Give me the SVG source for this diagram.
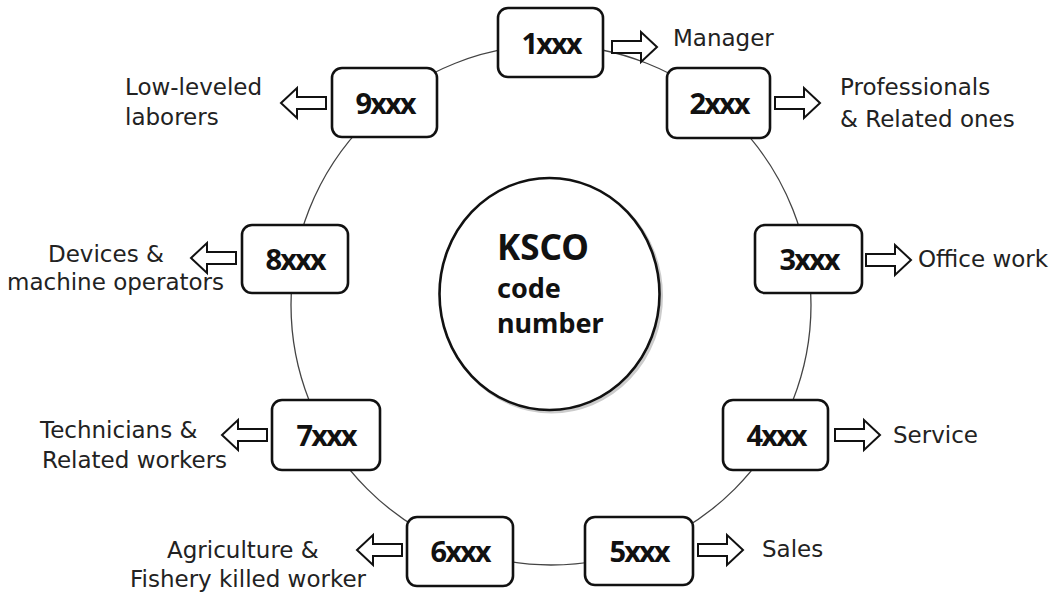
<svg xmlns="http://www.w3.org/2000/svg" xmlns:xlink="http://www.w3.org/1999/xlink" width="1062" height="596" viewBox="0 0 1062 596">
<style>
.ring{fill:none;stroke:#444;stroke-width:1.3}
.box{fill:#fff;stroke:#111;stroke-width:2.6}
.code{font-family:"Noto Sans","Liberation Sans",sans-serif;font-weight:700;font-size:29px;letter-spacing:-2px;fill:#111;text-anchor:middle}
.lbl{font-family:"DejaVu Sans","Noto Sans",sans-serif;font-size:23px;fill:#222}
.ctr{font-family:"Noto Sans","Liberation Sans",sans-serif;font-weight:700;fill:#111}
.arr{fill:#fff;stroke:#111;stroke-width:2;stroke-linejoin:miter}
</style>
<defs>
<path id="blk" class="arr" d="M0,-6 H29 V-15 L45,0 L29,15 V6 H0 Z"/>
</defs>
<rect width="1062" height="596" fill="#fff"/>
<g id="connectors">
<circle class="ring" cx="551" cy="305" r="260"/>
<use xlink:href="#blk" transform="translate(612,47)"/>
<use xlink:href="#blk" transform="translate(775,103)"/>
<use xlink:href="#blk" transform="translate(866,260)"/>
<use xlink:href="#blk" transform="translate(835,435)"/>
<use xlink:href="#blk" transform="translate(698,550)"/>
<use xlink:href="#blk" transform="translate(326,103) scale(-1,1)"/>
<use xlink:href="#blk" transform="translate(236,258) scale(-1,1)"/>
<use xlink:href="#blk" transform="translate(267,435) scale(-1,1)"/>
<use xlink:href="#blk" transform="translate(402,550) scale(-1,1)"/>
</g>
<g id="center">
<ellipse cx="551.5" cy="296" rx="110" ry="116" fill="none" stroke="#ccc" stroke-width="3"/>
<ellipse cx="549.5" cy="294" rx="110" ry="116" fill="#fff" stroke="#111" stroke-width="2.6"/>
<text class="ctr" x="497" y="260" font-size="35">KSCO</text>
<text class="ctr" x="497" y="298" font-size="27">code</text>
<text class="ctr" x="497" y="333" font-size="27">number</text>
</g>
<g id="n1"><rect class="box" x="498" y="8" width="105" height="69" rx="10"/><text class="code" x="551" y="54">1xxx</text>
<text class="lbl" x="673" y="46">Manager</text></g>
<g id="n2"><rect class="box" x="667" y="68" width="103" height="70" rx="10"/><text class="code" x="719" y="114">2xxx</text>
<text class="lbl" x="840" y="95">Professionals</text><text class="lbl" x="840" y="127">&amp; Related ones</text></g>
<g id="n3"><rect class="box" x="755" y="225" width="107" height="68" rx="10"/><text class="code" x="809" y="270">3xxx</text>
<text class="lbl" x="918" y="267">Office work</text></g>
<g id="n4"><rect class="box" x="723" y="400" width="105" height="70" rx="10"/><text class="code" x="776" y="446">4xxx</text>
<text class="lbl" x="893" y="443">Service</text></g>
<g id="n5"><rect class="box" x="585" y="517" width="108" height="68" rx="10"/><text class="code" x="639" y="562">5xxx</text>
<text class="lbl" x="762" y="557">Sales</text></g>
<g id="n6"><rect class="box" x="407" y="517" width="106" height="69" rx="10"/><text class="code" x="460" y="562">6xxx</text>
<text class="lbl" x="167" y="558">Agriculture &amp;</text><text class="lbl" x="130" y="587">Fishery killed worker</text></g>
<g id="n7"><rect class="box" x="272" y="400" width="108" height="70" rx="10"/><text class="code" x="326" y="446">7xxx</text>
<text class="lbl" x="40" y="438">Technicians &amp;</text><text class="lbl" x="42" y="468">Related workers</text></g>
<g id="n8"><rect class="box" x="242" y="225" width="106" height="68" rx="10"/><text class="code" x="295" y="270">8xxx</text>
<text class="lbl" x="48" y="262">Devices &amp;</text><text class="lbl" x="7" y="290">machine operators</text></g>
<g id="n9"><rect class="box" x="332" y="68" width="105" height="69" rx="10"/><text class="code" x="385" y="114">9xxx</text>
<text class="lbl" x="125" y="95">Low-leveled</text><text class="lbl" x="125" y="125">laborers</text></g>
</svg>
